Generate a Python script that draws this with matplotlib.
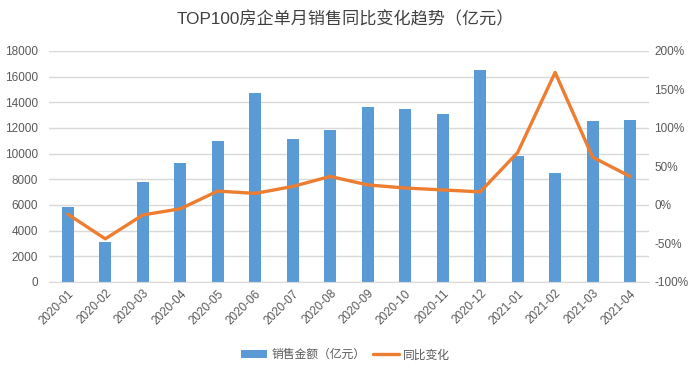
import numpy as np
import matplotlib.pyplot as plt

plt.rcParams['font.family'] = ['Liberation Sans', 'Noto Sans CJK SC', 'DejaVu Sans']

months = ['2020-01', '2020-02', '2020-03', '2020-04', '2020-05', '2020-06',
          '2020-07', '2020-08', '2020-09', '2020-10', '2020-11', '2020-12',
          '2021-01', '2021-02', '2021-03', '2021-04']
sales = [5850, 3100, 7800, 9300, 11000, 14700, 11150, 11800,
         13650, 13500, 13100, 16500, 9800, 8500, 12550, 12650]
yoy = [-12, -44, -13, -5, 18, 15, 24, 37, 26, 22, 19.5, 17, 68, 172, 62, 37]

fig = plt.figure(figsize=(6.91, 3.74), dpi=100)
ax = fig.add_axes([0.071, 0.246, 0.868, 0.618])
ax2 = ax.twinx()

index = np.arange(len(months))
ax.bar(index, sales, 0.32, color='#5B9BD5', label='销售金额（亿元）', zorder=2)
ax2.plot(index, np.array(yoy) / 100, color='#ED7D31', lw=2.4, label='同比变化',
         solid_capstyle='round')

ax.set_ylim(0, 18000)
ax.set_yticks(range(0, 18001, 2000))
ax2.set_ylim(-1, 2)
ax2.set_yticks(np.arange(-1, 2.01, 0.5))
ax2.set_yticklabels(['%d%%' % v for v in range(-100, 201, 50)])
ax.set_xlim(-0.5, len(months) - 0.5)
ax.set_xticks(index)
ax.set_xticklabels(months, rotation=45, ha='right', rotation_mode='anchor')

ax.grid(axis='y', color='#D9D9D9', lw=1, zorder=0)
ax.set_axisbelow(True)
for a in (ax, ax2):
    for s in a.spines.values():
        s.set_visible(False)
    a.tick_params(length=0, labelsize=8.5, labelcolor='#595959')
ax.spines['bottom'].set_visible(True)
ax.spines['bottom'].set_color('#D9D9D9')
ax.tick_params(axis='y', pad=8)
ax.tick_params(axis='x', pad=4)
ax2.tick_params(axis='y', pad=4)

fig.text(0.5, 0.95, 'TOP100房企单月销售同比变化趋势（亿元）', ha='center', va='center',
         fontsize=12.3, color='#404040')

h1, l1 = ax.get_legend_handles_labels()
h2, l2 = ax2.get_legend_handles_labels()
fig.legend(h1 + h2, l1 + l2, loc='center', bbox_to_anchor=(0.5, 0.05), ncol=2,
           frameon=False, fontsize=8.5, labelcolor='#595959', handlelength=2.2,
           columnspacing=0.6, handletextpad=0.4)

fig.savefig('out.png', dpi=100)
